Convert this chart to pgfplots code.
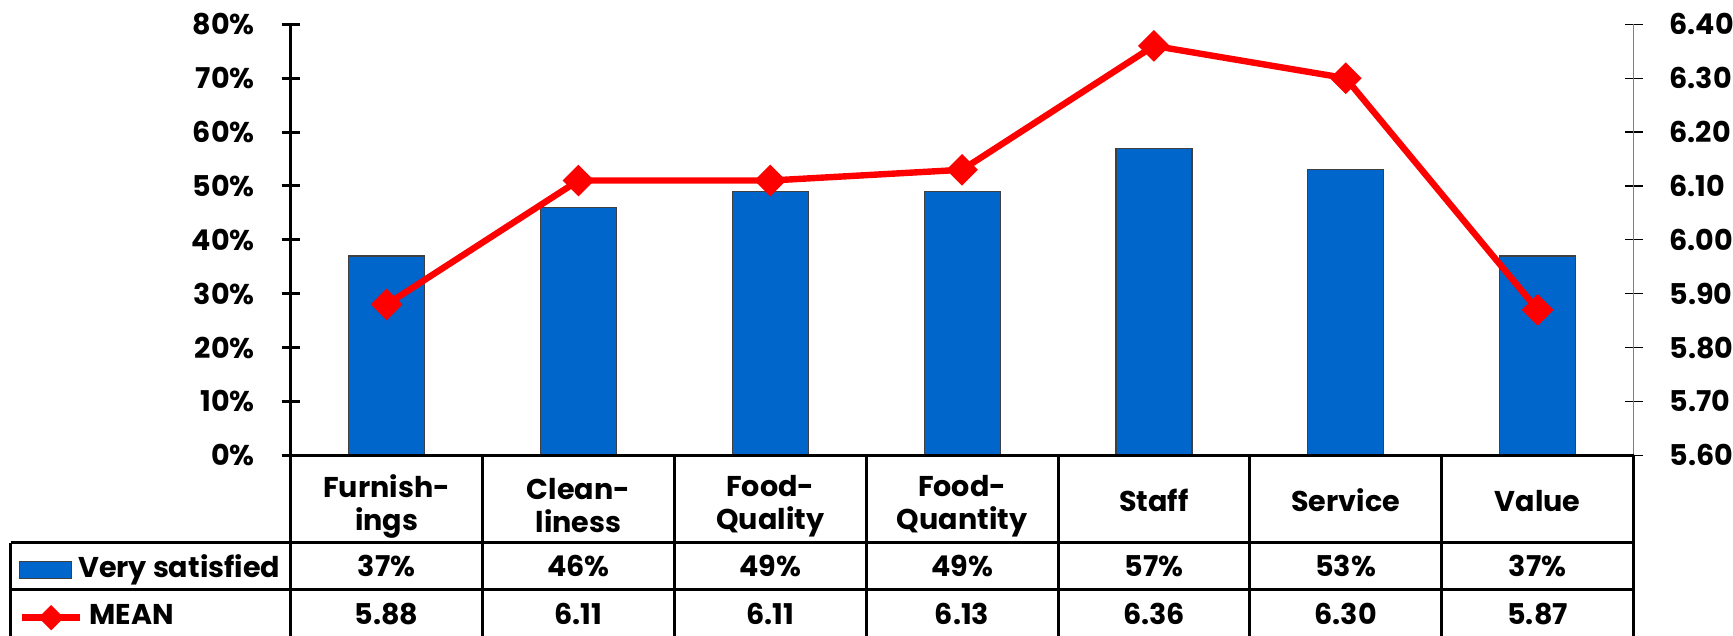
\documentclass[border=0pt]{standalone}
\usepackage{pgfplots}
\pgfplotsset{compat=1.18}
\usepackage{fontspec}
\setmainfont{Poppins}
\definecolor{barblue}{RGB}{0,102,204}
\definecolor{axgray}{RGB}{128,128,128}
\newcommand{\ff}{\fontsize{14.3}{16.5}\selectfont\bfseries}
\pgfplotsset{
  barkey/.style={legend image code/.code={\draw[##1] (1.65pt,-4.2pt) rectangle (27.65pt,4.2pt);}},
  linekey/.style={legend image code/.code={\draw[mark repeat=2, mark phase=2, ##1, mark size=2.9pt] plot coordinates {(0pt,0pt)(14.5pt,0pt)(29pt,0pt)};}},
  tablelegend/.style={legend style={at={(-0.20234,#1)}, anchor=west, draw=none, fill=none,
    inner sep=0pt, outer sep=0pt, font=\ff,
    nodes={inner sep=0pt, text height=0.86em, text depth=0.14em},
    /tikz/every odd column/.append style={column sep=3pt}},
    legend cell align=left},
}
\begin{document}
\begin{tikzpicture}[x=0.5pt,y=0.5pt,font=\ff]
\begin{axis}[
  at={(0,0)}, anchor=south west,
  scale only axis, width=671.4pt, height=215.5pt,
  xmin=-0.5, xmax=6.5, ymin=0, ymax=80,
  axis x line*=bottom, axis y line*=left,
  x axis line style={draw=none},
  y axis line style={line width=1.5pt, black},
  xtick={0,1,2,3,4,5,6},
  xticklabels={{Furnish-\\ings},{Clean-\\liness},{Food-\\Quality},{Food-\\Quantity},{\raisebox{5.5pt}{Staff}},{\raisebox{5.5pt}{Service}},{\raisebox{5.5pt}{Value}}},
  xtick style={draw=none},
  xticklabel style={align=center, anchor=center, yshift=-20.85pt, font=\ff},
  ytick={0,10,20,30,40,50,60,70,80},
  yticklabel={\pgfmathprintnumber{\tick}\%},
  ytick style={line width=1.5pt, black},
  tick align=center, major tick length=9pt,
  yticklabel style={xshift=-10pt, font=\ff},
  /pgf/number format/assume math mode=true,
  tablelegend=-0.2666,
]
\addplot[ybar, bar width=38pt, fill=barblue, draw=black!75, line width=0.6pt, barkey]
  coordinates {(0,37)(1,46)(2,49)(3,49)(4,57)(5,53)(6,37)};
\addlegendentry{Very satisfied}
\end{axis}
\begin{axis}[
  at={(0,0)}, anchor=south west,
  scale only axis, width=671.4pt, height=215.5pt,
  xmin=-0.5, xmax=6.5, ymin=5.6, ymax=6.4,
  axis y line*=right, axis x line=none,
  y axis line style={axgray, line width=0.8pt},
  ytick={5.6,5.7,5.8,5.9,6.0,6.1,6.2,6.3,6.4},
  ytick style={black, line width=0.6pt},
  tick align=center, major tick length=9pt,
  yticklabel style={xshift=10pt, font=\ff,
    /pgf/number format/.cd, fixed, fixed zerofill, precision=2},
  /pgf/number format/assume math mode=true,
  tablelegend=-0.3768,
]
\addplot[red, line width=3.2pt, mark=square*, mark size=4pt, mark options={rotate=45, solid}, linekey]
  coordinates {(0,5.88)(1,6.11)(2,6.11)(3,6.13)(4,6.36)(5,6.30)(6,5.87)};
\addlegendentry{MEAN}
\end{axis}
% data table grid
\draw[line width=1.5pt] (0,0) -- (1342.8,0);
\draw[line width=1.5pt] (-279.7,-87.4) -- (1342.8,-87.4);
\draw[line width=1.5pt] (-279.7,-134.7) -- (1342.8,-134.7);
\foreach \k in {0,...,7} \draw[line width=1.5pt] ({\k*191.83},0.75) -- ({\k*191.83},-190);
\draw[line width=1.5pt] (-279.7,-87.4) -- (-279.7,-190);
\foreach \v [count=\i from 0] in {37,46,49,49,57,53,37}
  \node[inner sep=0pt] at ({(\i+0.5)*191.83},-110.5) {\v\%};
\foreach \v [count=\i from 0] in {5.88,6.11,6.11,6.13,6.36,6.30,5.87}
  \node[inner sep=0pt] at ({(\i+0.5)*191.83},-158.5) {\v};
\pgfresetboundingbox
\useasboundingbox (-290.7,-180.7) rectangle (1442.3,455.3);
\end{tikzpicture}
\end{document}
